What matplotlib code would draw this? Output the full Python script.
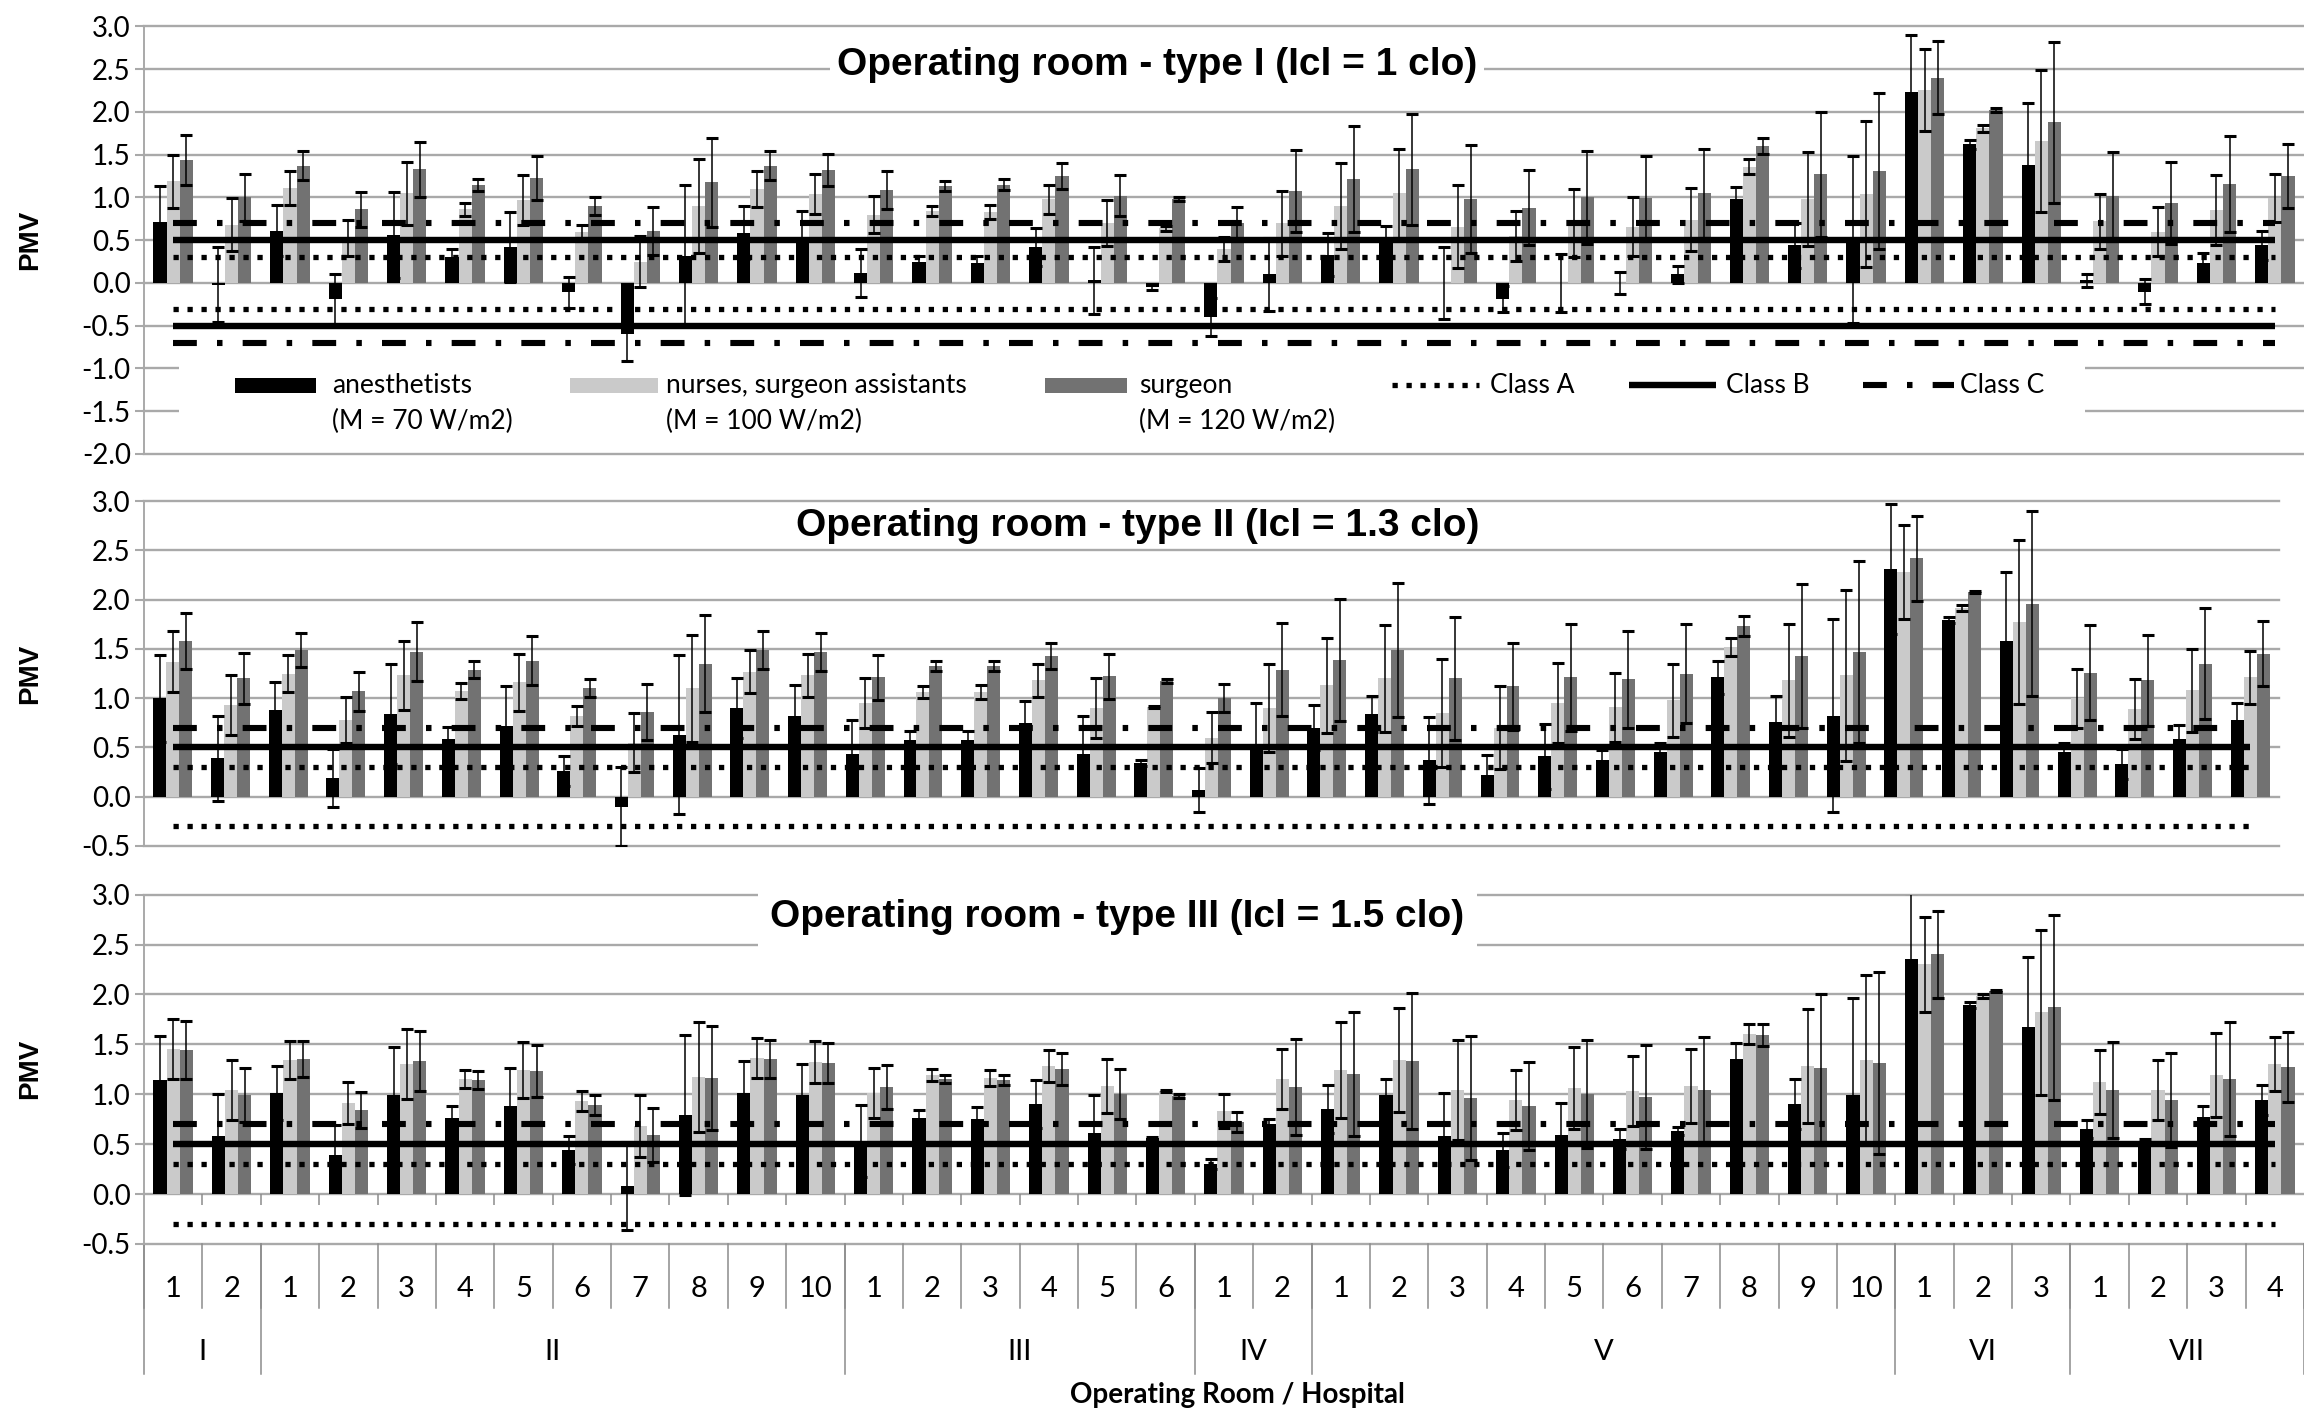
import numpy as np
import matplotlib
matplotlib.use("Agg")
import matplotlib.pyplot as plt
from matplotlib.patches import Rectangle
from matplotlib.lines import Line2D
from matplotlib.ticker import FormatStrFormatter
import matplotlib.transforms as mtransforms

plt.rcParams['font.family'] = ['Lato', 'DejaVu Sans']
plt.rcParams['axes.unicode_minus'] = False

# ---------------- data ----------------
room_labels = ['1', '2', '1', '2', '3', '4', '5', '6', '7', '8', '9', '10',
               '1', '2', '3', '4', '5', '6', '1', '2', '1', '2', '3', '4',
               '5', '6', '7', '8', '9', '10', '1', '2', '3', '1', '2', '3', '4']
hospital_labels = ['I', 'II', 'III', 'IV', 'V', 'VI', 'VII']
hospital_sizes = [2, 10, 6, 2, 10, 3, 4]

series_labels = ['anesthetists', 'nurses, surgeon assistants', 'surgeon']
series_sub = ['(M = 70 W/m2)', '(M = 100 W/m2)', '(M = 120 W/m2)']
class_labels = ['Class A', 'Class B', 'Class C']
class_a = 0.3
class_b = 0.5
class_c = 0.7

panel_titles = ['Operating room - type I (Icl = 1 clo)',
                'Operating room - type II (Icl = 1.3 clo)',
                'Operating room - type III (Icl = 1.5 clo)']

# Type I (Icl = 1 clo)
anest_I = [0.71, -0.02, 0.61, -0.19, 0.56, 0.30, 0.42, -0.11, -0.60, 0.32, 0.59, 0.51,
           0.12, 0.24, 0.23, 0.42, 0.03, -0.05, -0.40, 0.10, 0.33, 0.47, 0.00, -0.19,
           0.00, 0.00, 0.10, 0.98, 0.44, 0.51, 2.23, 1.62, 1.38, 0.03, -0.10, 0.23, 0.44]
anest_I_err = [0.42, 0.44, 0.30, 0.30, 0.50, 0.10, 0.41, 0.18, 0.31, 0.82, 0.31, 0.33,
               0.28, 0.08, 0.08, 0.22, 0.39, 0.03, 0.22, 0.43, 0.25, 0.20, 0.42, 0.15,
               0.34, 0.13, 0.10, 0.14, 0.26, 0.98, 0.67, 0.05, 0.72, 0.08, 0.15, 0.12, 0.17]
nurse_I = [1.19, 0.68, 1.11, 0.53, 1.05, 0.86, 0.97, 0.60, 0.25, 0.90, 1.10, 1.04,
           0.80, 0.84, 0.83, 0.98, 0.70, 0.64, 0.40, 0.70, 0.90, 1.05, 0.66, 0.55,
           0.70, 0.66, 0.74, 1.36, 0.98, 1.04, 2.26, 1.81, 1.66, 0.72, 0.60, 0.85, 0.99]
nurse_I_err = [0.31, 0.31, 0.20, 0.21, 0.37, 0.08, 0.29, 0.08, 0.30, 0.55, 0.21, 0.23,
               0.22, 0.06, 0.08, 0.17, 0.27, 0.03, 0.14, 0.38, 0.50, 0.52, 0.48, 0.29,
               0.40, 0.35, 0.37, 0.09, 0.55, 0.85, 0.48, 0.04, 0.83, 0.32, 0.29, 0.41, 0.28]
surg_I = [1.44, 1.00, 1.37, 0.86, 1.33, 1.15, 1.23, 0.90, 0.61, 1.18, 1.37, 1.32,
          1.09, 1.13, 1.15, 1.25, 1.02, 0.98, 0.70, 1.08, 1.22, 1.33, 0.98, 0.88,
          1.00, 0.99, 1.05, 1.60, 1.27, 1.31, 2.40, 2.02, 1.88, 1.02, 0.94, 1.16, 1.25]
surg_I_err = [0.29, 0.27, 0.17, 0.20, 0.32, 0.07, 0.26, 0.10, 0.28, 0.52, 0.17, 0.19,
              0.22, 0.06, 0.06, 0.15, 0.24, 0.02, 0.19, 0.48, 0.62, 0.65, 0.63, 0.44,
              0.54, 0.50, 0.52, 0.09, 0.73, 0.91, 0.43, 0.02, 0.94, 0.51, 0.48, 0.56, 0.37]

# Type II (Icl = 1.3 clo)
anest_II = [1.00, 0.39, 0.88, 0.19, 0.84, 0.59, 0.72, 0.26, -0.10, 0.63, 0.90, 0.82,
            0.43, 0.58, 0.58, 0.75, 0.43, 0.34, 0.07, 0.50, 0.70, 0.84, 0.37, 0.22,
            0.41, 0.37, 0.45, 1.21, 0.76, 0.82, 2.31, 1.79, 1.58, 0.45, 0.33, 0.59, 0.78]
anest_II_err = [0.44, 0.43, 0.28, 0.29, 0.51, 0.12, 0.40, 0.15, 0.40, 0.81, 0.30, 0.31,
                0.35, 0.09, 0.09, 0.22, 0.39, 0.03, 0.22, 0.45, 0.23, 0.18, 0.44, 0.20,
                0.33, 0.10, 0.10, 0.17, 0.26, 0.98, 0.66, 0.03, 0.70, 0.10, 0.15, 0.14, 0.17]
nurse_II = [1.37, 0.93, 1.25, 0.78, 1.23, 1.07, 1.16, 0.82, 0.55, 1.10, 1.27, 1.23,
            0.95, 1.06, 1.06, 1.18, 0.90, 0.91, 0.60, 0.90, 1.13, 1.20, 0.85, 0.70,
            0.95, 0.91, 0.98, 1.52, 1.18, 1.23, 2.28, 1.91, 1.77, 1.00, 0.89, 1.08, 1.21]
nurse_II_err = [0.31, 0.30, 0.19, 0.23, 0.35, 0.08, 0.29, 0.10, 0.30, 0.54, 0.22, 0.22,
                0.25, 0.06, 0.07, 0.17, 0.30, 0.01, 0.26, 0.45, 0.48, 0.54, 0.55, 0.42,
                0.41, 0.35, 0.37, 0.09, 0.57, 0.87, 0.48, 0.03, 0.83, 0.30, 0.30, 0.42, 0.27]
surg_II = [1.58, 1.20, 1.49, 1.07, 1.47, 1.29, 1.38, 1.10, 0.86, 1.35, 1.49, 1.47,
           1.21, 1.33, 1.33, 1.43, 1.22, 1.17, 1.00, 1.29, 1.39, 1.49, 1.20, 1.12,
           1.21, 1.19, 1.25, 1.73, 1.43, 1.47, 2.42, 2.08, 1.96, 1.26, 1.18, 1.35, 1.45]
surg_II_err = [0.28, 0.26, 0.17, 0.20, 0.30, 0.09, 0.25, 0.09, 0.28, 0.49, 0.19, 0.19,
               0.23, 0.05, 0.05, 0.13, 0.23, 0.02, 0.14, 0.47, 0.62, 0.68, 0.62, 0.44,
               0.54, 0.49, 0.50, 0.10, 0.73, 0.92, 0.43, 0.01, 0.94, 0.48, 0.46, 0.56, 0.33]

# Type III (Icl = 1.5 clo)
anest_III = [1.14, 0.58, 1.01, 0.39, 0.99, 0.76, 0.88, 0.44, 0.08, 0.79, 1.01, 0.99,
             0.53, 0.76, 0.75, 0.90, 0.61, 0.56, 0.30, 0.70, 0.85, 0.99, 0.58, 0.44,
             0.59, 0.55, 0.63, 1.35, 0.90, 0.99, 2.35, 1.89, 1.67, 0.65, 0.53, 0.77, 0.94]
anest_III_err = [0.44, 0.42, 0.27, 0.30, 0.48, 0.12, 0.38, 0.14, 0.44, 0.80, 0.32, 0.31,
                 0.36, 0.08, 0.12, 0.24, 0.38, 0.01, 0.05, 0.05, 0.24, 0.16, 0.43, 0.17,
                 0.32, 0.10, 0.04, 0.16, 0.25, 0.97, 0.67, 0.03, 0.70, 0.09, 0.02, 0.11, 0.15]
nurse_III = [1.45, 1.04, 1.34, 0.91, 1.30, 1.15, 1.24, 0.93, 0.68, 1.17, 1.36, 1.32,
             1.01, 1.19, 1.16, 1.28, 1.08, 1.03, 0.83, 1.15, 1.24, 1.34, 1.04, 0.94,
             1.06, 1.03, 1.08, 1.60, 1.28, 1.34, 2.30, 1.98, 1.82, 1.12, 1.04, 1.19, 1.30]
nurse_III_err = [0.30, 0.30, 0.19, 0.21, 0.35, 0.09, 0.28, 0.10, 0.31, 0.55, 0.20, 0.21,
                 0.25, 0.06, 0.08, 0.16, 0.27, 0.01, 0.17, 0.30, 0.48, 0.52, 0.50, 0.30,
                 0.41, 0.35, 0.37, 0.10, 0.57, 0.85, 0.48, 0.02, 0.83, 0.32, 0.30, 0.42, 0.27]
surg_III = [1.44, 0.99, 1.35, 0.84, 1.33, 1.14, 1.23, 0.89, 0.59, 1.16, 1.35, 1.31,
            1.07, 1.15, 1.14, 1.25, 1.00, 0.98, 0.72, 1.07, 1.20, 1.33, 0.96, 0.88,
            1.00, 0.97, 1.04, 1.59, 1.26, 1.31, 2.40, 2.03, 1.87, 1.04, 0.94, 1.15, 1.27]
surg_III_err = [0.29, 0.27, 0.18, 0.18, 0.30, 0.09, 0.26, 0.10, 0.27, 0.52, 0.19, 0.20,
                0.22, 0.04, 0.05, 0.16, 0.25, 0.02, 0.10, 0.48, 0.62, 0.68, 0.62, 0.44,
                0.54, 0.52, 0.53, 0.11, 0.74, 0.91, 0.44, 0.01, 0.93, 0.48, 0.47, 0.57, 0.35]

yticks_I = [-2.0, -1.5, -1.0, -0.5, 0.0, 0.5, 1.0, 1.5, 2.0, 2.5, 3.0]
yticks_II_III = [-0.5, 0.0, 0.5, 1.0, 1.5, 2.0, 2.5, 3.0]

# ---------------- style ----------------
GRID = '#a9a9a9'
SEP = '#8c8c8c'
bar_colors = ['#000000', '#cacaca', '#727272']
offsets = [-0.225, 0.0, 0.225]
bw = 0.225
TICKFONT = ['Lato', 'DejaVu Sans']
TITLEFONT = ['Liberation Sans', 'DejaVu Sans']

ls_a = dict(color='black', lw=3.8, linestyle=(0, (1.0, 1.65)), dash_capstyle='butt')
ls_b = dict(color='black', lw=4.6, linestyle='-', solid_capstyle='butt')
ls_c = dict(color='black', lw=4.4, linestyle=(0, (3.9, 3.3, 0.9, 3.3)), dash_capstyle='butt')

W, H = 2304, 1417
fig = plt.figure(figsize=(W / 100, H / 100), dpi=100)


def rect(l, t, r, b):
    return [l / W, 1 - b / H, (r - l) / W, (b - t) / H]


ax1 = fig.add_axes(rect(144, 26.4, 2304, 454))
ax2 = fig.add_axes(rect(144, 501, 2279, 846))
ax3 = fig.add_axes(rect(144, 894.6, 2304, 1244))

n = len(room_labels)
x = np.arange(n)


def draw_panel(ax, ylo, yticks, vals, errs, neg_lines):
    ax.set_xlim(-0.5, n - 0.5)
    ax.set_ylim(ylo, 3.0)
    ax.set_yticks(yticks)
    ax.yaxis.set_major_formatter(FormatStrFormatter('%.1f'))
    ax.yaxis.grid(True, color=GRID, lw=1.7)
    for gl in ax.get_ygridlines():
        gl.set_clip_on(False)
    ax.set_axisbelow(True)
    for s in ['top', 'right', 'bottom']:
        ax.spines[s].set_visible(False)
    ax.spines['left'].set_color(GRID)
    ax.spines['left'].set_linewidth(1.4)
    ax.tick_params(axis='y', direction='out', length=6.5, width=1.5, color=GRID,
                   labelsize=20, pad=3)
    for lab in ax.get_yticklabels():
        lab.set_family(TICKFONT)
    ax.tick_params(axis='x', bottom=False, labelbottom=False)
    for k in range(3):
        xx = x + offsets[k]
        ax.bar(xx, vals[k], width=bw, color=bar_colors[k], linewidth=0, zorder=2)
        ax.errorbar(xx, vals[k], yerr=errs[k], fmt='none', ecolor='black',
                    elinewidth=1.1, capsize=4.2, capthick=2.2, zorder=3)
    ax.plot(x, [class_a] * n, zorder=4, **ls_a)
    ax.plot(x, [-class_a] * n, zorder=4, **ls_a)
    ax.plot(x, [class_b] * n, zorder=4, **ls_b)
    ax.plot(x, [class_c] * n, zorder=4, **ls_c)
    if neg_lines:
        ax.plot(x, [-class_b] * n, zorder=4, **ls_b)
        ax.plot(x, [-class_c] * n, zorder=4, **ls_c)


draw_panel(ax1, -2.0, yticks_I, [anest_I, nurse_I, surg_I],
           [anest_I_err, nurse_I_err, surg_I_err], True)
draw_panel(ax2, -0.5, yticks_II_III, [anest_II, nurse_II, surg_II],
           [anest_II_err, nurse_II_err, surg_II_err], False)
draw_panel(ax3, -0.5, yticks_II_III, [anest_III, nurse_III, surg_III],
           [anest_III_err, nurse_III_err, surg_III_err], False)

# titles
ax1.text(0.469, 0.910, panel_titles[0], transform=ax1.transAxes, ha='center', va='center',
         fontsize=28, fontweight='bold', family=TITLEFONT, zorder=6,
         bbox=dict(facecolor='white', edgecolor='none', pad=5))
ax2.text(0.4656, 0.927, panel_titles[1], transform=ax2.transAxes, ha='center', va='center',
         fontsize=28, fontweight='bold', family=TITLEFONT, zorder=6)
ax3.text(0.4505, 0.936, panel_titles[2], transform=ax3.transAxes, ha='center', va='center',
         fontsize=28, fontweight='bold', family=TITLEFONT, zorder=6,
         bbox=dict(facecolor='white', edgecolor='none', pad=9))

# y labels
for ax in (ax1, ax2, ax3):
    pos = ax.get_position()
    fig.text(30 / W, pos.y0 + pos.height / 2, 'PMV', rotation=90, ha='center', va='center',
             fontsize=20, fontweight='bold', family=TITLEFONT)

# legend (inside panel 1)
ta = ax1.transAxes
ax1.add_patch(Rectangle((0.0162, 0.02), 0.8824, 0.185, transform=ta, facecolor='white',
                        edgecolor='none', zorder=10))
y1, y2 = 0.161, 0.075
patch_x = [(0.0421, 0.0796), (0.1972, 0.2380), (0.4171, 0.4551)]
text_x = [0.087, 0.2417, 0.4606]
for k in range(3):
    x0, x1 = patch_x[k]
    ax1.add_patch(Rectangle((x0, y1 - 0.0175), x1 - x0, 0.035, transform=ta,
                            facecolor=bar_colors[k], edgecolor='none', zorder=11))
    ax1.text(text_x[k], y1, series_labels[k], transform=ta, ha='left', va='center',
             fontsize=19, family=TICKFONT, zorder=12)
    ax1.text(text_x[k], y2, series_sub[k], transform=ta, ha='left', va='center',
             fontsize=19, family=TICKFONT, zorder=12)
line_x = [(0.578, 0.618), (0.6875, 0.728), (0.796, 0.838)]
line_tx = [0.623, 0.7324, 0.8407]
for k, st in enumerate([ls_a, ls_b, ls_c]):
    x0, x1 = line_x[k]
    ax1.add_line(Line2D([x0, x1], [y1, y1], transform=ta, zorder=11, **st))
    ax1.text(line_tx[k], y1, class_labels[k], transform=ta, ha='left', va='center',
             fontsize=19, family=TICKFONT, zorder=12)

# category axis under panel 3
bt = mtransforms.blended_transform_factory(ax3.transData, ax3.transAxes)
inner_bounds = np.arange(n + 1) - 0.5
group_bounds = np.cumsum([0] + hospital_sizes) - 0.5
for b in inner_bounds:
    ax3.add_line(Line2D([b, b], [0, -0.183], transform=bt, color=SEP, lw=1.1,
                        clip_on=False))
for b in group_bounds:
    ax3.add_line(Line2D([b, b], [0, -0.372], transform=bt, color=SEP, lw=1.1,
                        clip_on=False))
ax3.vlines(inner_bounds[1:-1], -0.11, 0.0, color=SEP, lw=1.1, zorder=1)
for i, lab in enumerate(room_labels):
    ax3.text(i, -0.129, lab, transform=bt, ha='center', va='center', fontsize=21,
             family=TICKFONT)
starts = np.cumsum([0] + hospital_sizes[:-1])
for s, sz, lab in zip(starts, hospital_sizes, hospital_labels):
    ax3.text(s + (sz - 1) / 2, -0.308, lab, transform=bt, ha='center', va='center',
             fontsize=21, family=TICKFONT)
ax3.text((1237 - 144) / 2160, -0.432, 'Operating Room / Hospital', transform=ax3.transAxes,
         ha='center', va='center', fontsize=20, fontweight='bold', family=TICKFONT)

fig.savefig('out.png', dpi=100, facecolor='white')
